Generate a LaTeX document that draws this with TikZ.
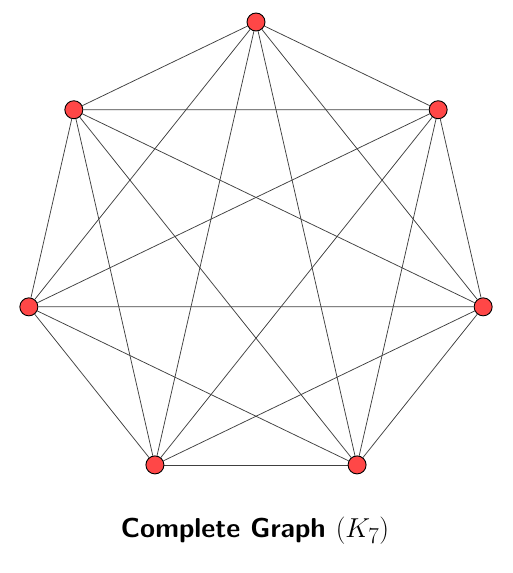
\documentclass[tikz,border=0pt]{standalone}
\usepackage{graphicx}
\usetikzlibrary{backgrounds}
\begin{document}
\begin{tikzpicture}[x=1pt,y=-1pt,
  vert/.style={circle,draw=black,line width=0.9pt,fill=red!72!white,minimum size=18pt,inner sep=0pt},
  edge/.style={draw=black!75,line width=0.75pt}]
\useasboundingbox (0,0) rectangle (512,573);
\foreach \i in {0,...,6} {
  \pgfmathsetmacro{\ang}{90+\i*360/7}
  \node[vert] (v\i) at ({256+233*cos(\ang)},{255-233*sin(\ang)}) {};
}
\begin{pgfonlayer}{background}
\foreach \i in {0,...,6} {
  \foreach \j in {0,...,6} {
    \ifnum\i<\j
      \draw[edge] (v\i) -- (v\j);
    \fi
  }
}
\end{pgfonlayer}
\node (title) at (255,531) {\scalebox{1.1}{\fontsize{24.88}{30}\selectfont\sffamily\bfseries Complete Graph $(K_7)$}};
\end{tikzpicture}
\end{document}
